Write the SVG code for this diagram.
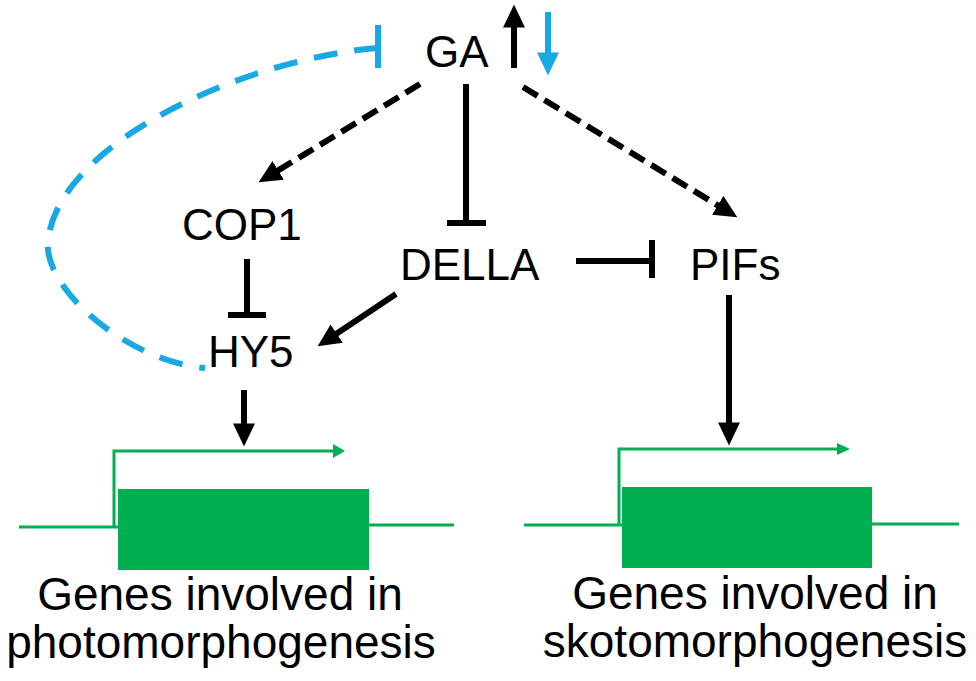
<svg xmlns="http://www.w3.org/2000/svg" width="976" height="681" viewBox="0 0 976 681">
<style>
text{font-family:"Liberation Sans",Arial,sans-serif;fill:#000}
.n{font-size:44px}
.g{font-size:46px;text-anchor:middle}
.k{stroke:#000;stroke-width:6;fill:none}
.d{stroke-dasharray:17 8}
.b{stroke:#18a8e3;stroke-width:6;fill:none}
.gr{stroke:#00b050;stroke-width:3;fill:none}
</style>
<defs>
<marker id="ah" markerUnits="userSpaceOnUse" markerWidth="24" markerHeight="22" refX="12" refY="10.5" orient="auto" viewBox="0 0 23 21"><path d="M0,0 L22,10.5 L0,21 z" fill="#000"/></marker>
<marker id="ahb" markerUnits="userSpaceOnUse" markerWidth="24" markerHeight="22" refX="12" refY="10.5" orient="auto" viewBox="0 0 23 21"><path d="M0,0 L22,10.5 L0,21 z" fill="#18a8e3"/></marker>
</defs>
<g id="connectors">
<path class="b" d="M378 48 C250 58 60 140 48 240 C42 290 130 362 205 368" stroke-dasharray="24 17"/>
<line class="b" x1="378" y1="25" x2="378" y2="68"/>
<line class="k d" x1="420" y1="84" x2="267.5" y2="176.8" marker-end="url(#ah)"/>
<line class="k d" x1="523" y1="87" x2="728.4" y2="211.8" marker-end="url(#ah)"/>
<line class="k" x1="466" y1="84" x2="466" y2="223"/>
<line class="k" x1="447" y1="223" x2="486" y2="223"/>
<line class="k" x1="247" y1="259" x2="247" y2="315"/>
<line class="k" x1="228" y1="315" x2="266" y2="315"/>
<line class="k" x1="576" y1="261" x2="652" y2="261"/>
<line class="k" x1="652" y1="240" x2="652" y2="278"/>
<line class="k" x1="396" y1="294" x2="326.3" y2="340.5" marker-end="url(#ah)"/>
<line class="k" x1="244" y1="390" x2="244" y2="436" marker-end="url(#ah)"/>
<line class="k" x1="729" y1="295" x2="729" y2="435" marker-end="url(#ah)"/>
<line class="k" x1="514" y1="68" x2="514" y2="15" marker-end="url(#ah)"/>
<line class="b" x1="548" y1="12" x2="548" y2="65" marker-end="url(#ahb)"/>
</g>
<g id="GA"><text class="n" x="425" y="67">GA</text></g>
<g id="COP1"><text class="n" x="182" y="240">COP1</text></g>
<g id="HY5"><text class="n" x="208" y="367">HY5</text></g>
<g id="DELLA"><text class="n" x="400" y="280">DELLA</text></g>
<g id="PIFs"><text class="n" x="690" y="280">PIFs</text></g>
<g id="gene-photo">
<path class="gr" d="M19 527 H118 M369 525 H454"/>
<rect x="118" y="489" width="251" height="81" fill="#00b050"/>
<path class="gr" d="M114 527 V451 H334"/>
<polygon points="333,444 345,451 333,458" fill="#00b050"/>
<text class="g" x="220" y="610">Genes involved in</text>
<text class="g" x="221" y="658">photomorphogenesis</text>
</g>
<g id="gene-skoto">
<path class="gr" d="M524 525 H622 M872 524 H959"/>
<rect x="622" y="487" width="250" height="81" fill="#00b050"/>
<path class="gr" d="M619 525 V449 H838"/>
<polygon points="837,443 850,449 837,455" fill="#00b050"/>
<text class="g" x="755" y="609">Genes involved in</text>
<text class="g" x="755" y="657">skotomorphogenesis</text>
</g>
</svg>
